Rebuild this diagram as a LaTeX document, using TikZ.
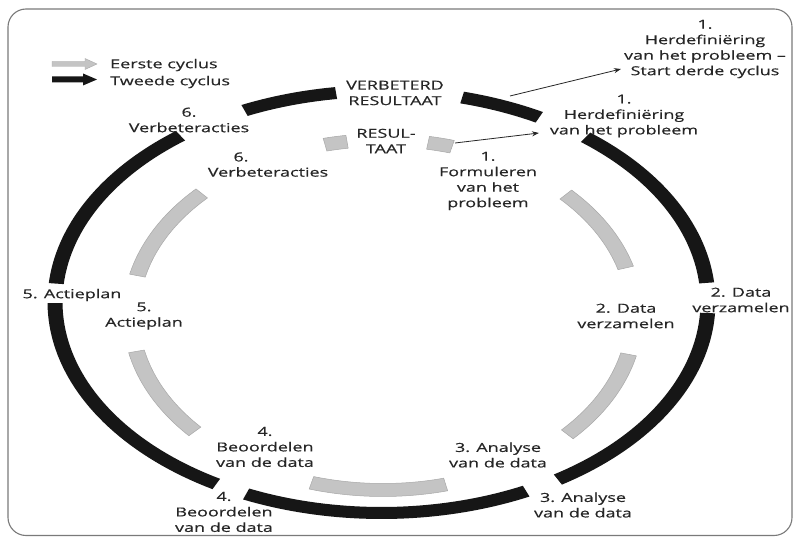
\documentclass[tikz,border=0pt]{standalone}
\usepackage{fontspec}
\setmainfont{Open Sans}[FakeStretch=1.45,FakeBold=0.4]
\usetikzlibrary{arrows.meta}
\definecolor{txt}{HTML}{262626}
\definecolor{ringblack}{HTML}{161616}
\definecolor{ringgray}{HTML}{C4C4C4}
\definecolor{ringgrayedge}{HTML}{A8A8A8}
\definecolor{framecol}{HTML}{7A7A7A}
% #1 style, #2 start, #3 end, #4 cx, #5 cy, #6 rx, #7 ry, #8 half width x, #9 half width y
\newcommand{\ringseg}[9]{%
  \path[#1] plot[domain=#2:#3,samples=40,variable=\t]
    ({#4+(#6+#8)*cos(\t)},{#5+(#7+#9)*sin(\t)})
    -- plot[domain=#3:#2,samples=40,variable=\t]
    ({#4+(#6-#8)*cos(\t)},{#5+(#7-#9)*sin(\t)}) -- cycle;}
\newcommand{\outerseg}[2]{\ringseg{blackband}{#1}{#2}{381.5}{302}{326.5}{211}{7.5}{6}}
\newcommand{\innerseg}[2]{\ringseg{grayband}{#1}{#2}{383}{315}{252}{175}{8}{6.5}}
\begin{document}
\begin{tikzpicture}[x=1pt,y=-1pt,
  blackband/.style={fill=ringblack},
  grayband/.style={fill=ringgray,draw=ringgrayedge,line width=0.5pt},
  lbl/.style={text=txt,font=\fontsize{12.4}{15.5}\selectfont,align=center,inner sep=0pt},
  conn/.style={draw=txt,line width=0.8pt,-{Stealth[length=7pt,width=5pt]}}]
\useasboundingbox (0,0) rectangle (795,537);
\fill[white] (0,0) rectangle (795,537);
% frame
\draw[framecol,line width=1.1pt,rounded corners=18pt] (8,9) rectangle (792,535.5);
% legend
\fill[ringgray,draw=ringgrayedge,line width=0.4pt] (52,61.5) -- (85,61.5) -- (85,58.5) -- (97,64) -- (85,69.5) -- (85,66.5) -- (52,66.5) -- cycle;
\fill[ringblack] (52,76.5) -- (83,76.5) -- (83,73.5) -- (97,79.5) -- (83,85.5) -- (83,82.5) -- (52,82.5) -- cycle;
\node[lbl,anchor=west] (leg1) at (110,65) {Eerste cyclus};
\node[lbl,anchor=west] (leg2) at (110,82) {Tweede cyclus};
% outer ring (tweede cyclus)
\outerseg{185}{232}
\outerseg{245.2}{262}
\outerseg{284.3}{298.9}
\outerseg{308.7}{354.8}
\outerseg{3}{57.3}
\outerseg{63.7}{114.5}
\outerseg{120.4}{179.7}
% inner ring (eerste cyclus)
\innerseg{193}{224}
\innerseg{138.3}{168}
\innerseg{75.6}{106.5}
\innerseg{13}{43}
\innerseg{316.5}{344.4}
\innerseg{256.7}{261.8}
\innerseg{280.3}{285.9}
% labels
\node[lbl] (verb) at (395,93) {VERBETERD\\RESULTAAT};
\node[lbl] (res) at (386,141) {RESUL-\\TAAT};
\node[lbl] (l6o) at (189,120) {6.\\Verbeteracties};
\node[lbl] (l6ia) at (241,157) {6.};
\node[lbl] (l6ib) at (268,172) {Verbeteracties};
\node[lbl] (l5o) at (72,295) {5. Actieplan};
\node[lbl] (l5i) at (144,316) {5.\\Actieplan};
\node[lbl] (l4i) at (265,447) {4.\\Beoordelen\\van de data};
\node[lbl] (l4o) at (224,512) {4.\\Beoordelen\\van de data};
\node[lbl] (l3i) at (498,455) {3. Analyse\\van de data};
\node[lbl] (l3o) at (583,505) {3. Analyse\\van de data};
\node[lbl] (l2i) at (626,316) {2. Data\\verzamelen};
\node[lbl] (l2o) at (741,300) {2. Data\\verzamelen};
\node[lbl] (l1i) at (488,181) {1.\\Formuleren\\van het\\probleem};
\node[lbl] (l1o) at (624,116) {1.\\Herdefiniëring\\van het probleem};
\node[lbl] (l1t) at (705,49) {1.\\Herdefiniëring\\van het probleem –\\Start derde cyclus};
% connectors
\coordinate (c1s) at (510,96);
\coordinate (c1e) at (621,69);
\coordinate (c2s) at (455,143);
\coordinate (c2e) at (539,133);
\draw[conn] (c1s) -- (c1e);
\draw[conn] (c2s) -- (c2e);
\end{tikzpicture}
\end{document}
